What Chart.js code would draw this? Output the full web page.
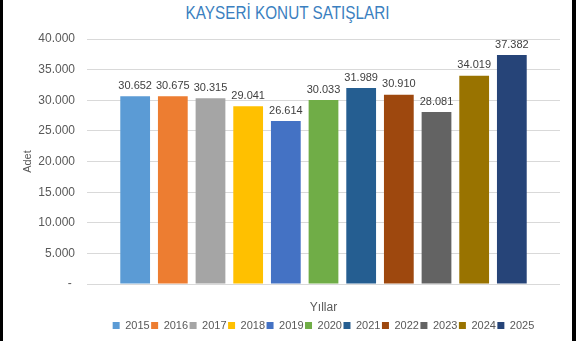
<!DOCTYPE html>
<html lang="tr">
<head>
    <meta charset="UTF-8">
    <title>Kayseri Konut Satışları</title>
    <script src="https://cdn.jsdelivr.net/npm/chart.js"></script>
    <style>
        html, body {
            margin: 0;
            padding: 0;
            background: #000;
        }
        .frame {
            position: relative;
            width: 569px;
            height: 341px;
            margin-left: 3px;
            background: #fff;
        }
        .chart-title {
            position: absolute;
            top: 3px;
            left: 0;
            width: 569px;
            text-align: center;
            font-family: 'Liberation Sans', Arial, sans-serif;
            font-size: 18px;
            color: #3b7fc0;
            transform: scaleX(0.85);
            transform-origin: 285px 0;
        }
        canvas {
            position: absolute;
            left: 0;
            top: 0;
        }
    </style>
</head>
<body>
    <div class="frame">
        <div class="chart-title">KAYSERİ KONUT SATIŞLARI</div>
        <canvas id="salesChart" width="569" height="341"></canvas>
    </div>

    <script>
        // data
        const years = ['2015', '2016', '2017', '2018', '2019', '2020', '2021', '2022', '2023', '2024', '2025'];
        const sales = [30652, 30675, 30315, 29041, 26614, 30033, 31989, 30910, 28081, 34019, 37382];
        const colors = ['#5b9bd5', '#ed7d31', '#a5a5a5', '#ffc000', '#4472c4', '#70ad47',
                        '#255e91', '#9e480e', '#636363', '#997300', '#264478'];
        const yTicks = [0, 5000, 10000, 15000, 20000, 25000, 30000, 35000, 40000];

        const FONT = "'Liberation Sans', Arial, sans-serif";

        // turkish style thousands: 30.652
        function fmt(v) {
            return String(v).replace(/\B(?=(\d{3})+(?!\d))/g, '.');
        }

        // one bar per year, all in a single cluster (like the excel chart)
        const datasets = years.map((y, i) => ({
            label: y,
            data: [sales[i]],
            backgroundColor: colors[i],
            borderWidth: 0,
            categoryPercentage: 0.876,
            barPercentage: 0.79
        }));

        // value labels above the bars
        const valueLabels = {
            id: 'valueLabels',
            afterDatasetsDraw(chart) {
                const ctx = chart.ctx;
                ctx.save();
                ctx.font = '11px ' + FONT;
                ctx.fillStyle = '#404040';
                ctx.textAlign = 'center';
                ctx.textBaseline = 'bottom';
                chart.data.datasets.forEach((ds, i) => {
                    const meta = chart.getDatasetMeta(i);
                    meta.data.forEach((bar, j) => {
                        ctx.fillText(fmt(ds.data[j]), bar.x, bar.y - 5);
                    });
                });
                ctx.restore();
            }
        };

        const ctx = document.getElementById('salesChart').getContext('2d');
        new Chart(ctx, {
            type: 'bar',
            data: {
                labels: [''],
                datasets: datasets
            },
            plugins: [valueLabels],
            options: {
                responsive: false,
                animation: false,
                layout: {
                    padding: { top: 39, right: 12, bottom: 0, left: 0 }
                },
                plugins: {
                    legend: {
                        position: 'bottom',
                        fullSize: false,
                        labels: {
                            boxWidth: 7,
                            boxHeight: 7,
                            padding: 1.5,
                            color: '#595959',
                            font: { family: FONT, size: 11 }
                        }
                    },
                    tooltip: { enabled: false }
                },
                scales: {
                    x: {
                        grid: { display: false },
                        border: { display: false },
                        ticks: { display: false },
                        title: {
                            display: true,
                            text: 'Yıllar',
                            color: '#595959',
                            font: { family: FONT, size: 12 },
                            padding: { top: 8, bottom: 4 }
                        }
                    },
                    y: {
                        min: 0,
                        max: 40000,
                        afterBuildTicks(scale) {
                            scale.ticks = yTicks.map(v => ({ value: v }));
                        },
                        afterFit(scale) {
                            scale.width = 84;
                        },
                        grid: {
                            color: '#d9d9d9',
                            drawTicks: false
                        },
                        border: { display: false },
                        ticks: {
                            padding: 12,
                            color: '#595959',
                            font: { family: FONT, size: 12 },
                            callback: v => v === 0 ? '- ' : fmt(v)
                        },
                        title: {
                            display: true,
                            text: 'Adet',
                            color: '#595959',
                            font: { family: FONT, size: 11 },
                            padding: { top: 18, bottom: 0 }
                        }
                    }
                }
            }
        });
    </script>
</body>
</html>
